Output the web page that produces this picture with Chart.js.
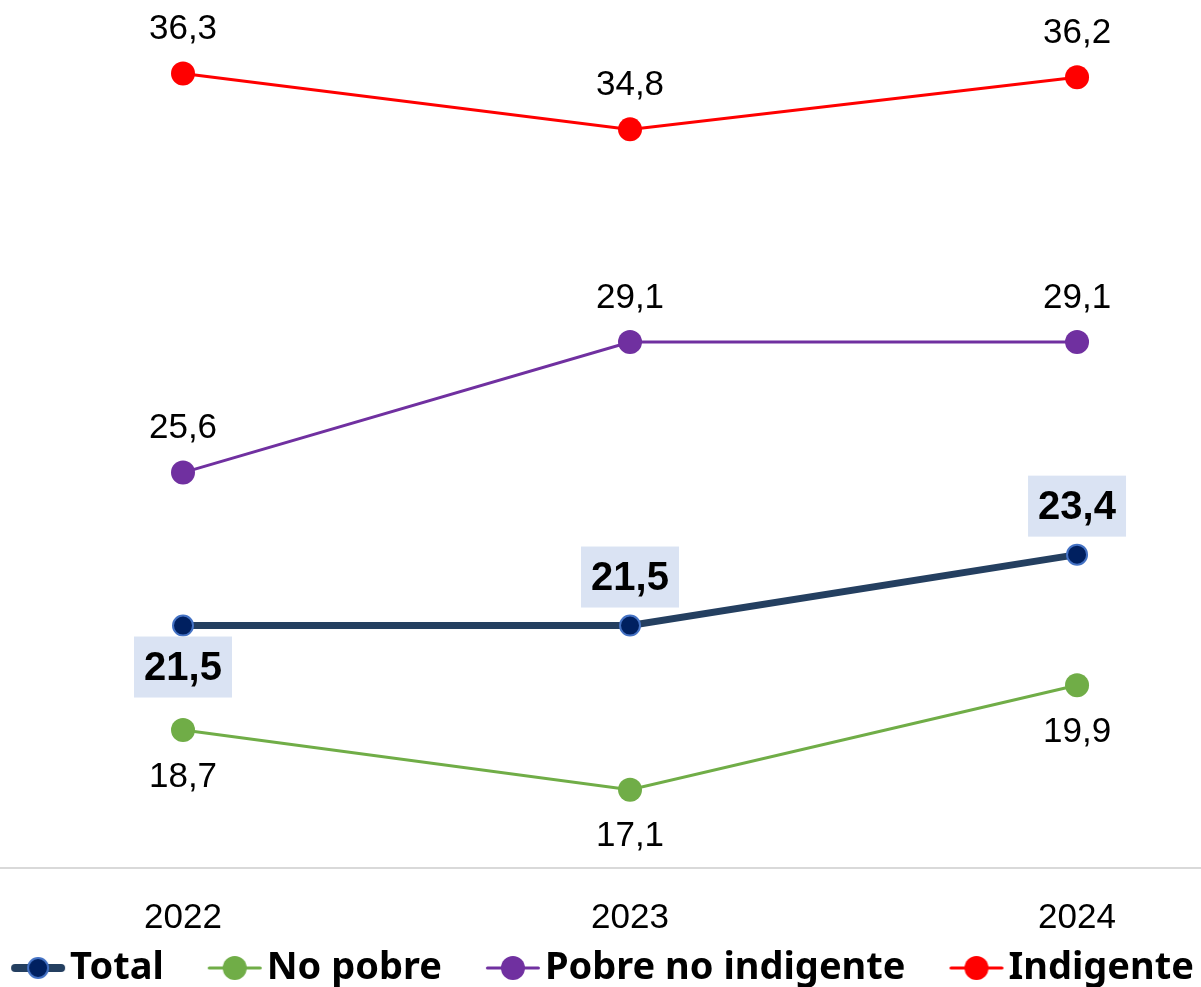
<!DOCTYPE html>
<html>
<head>
<meta charset="utf-8">
<script src="https://cdn.jsdelivr.net/npm/chart.js@4"></script>
<style>
  html, body { margin: 0; padding: 0; background: #fff; overflow: hidden; }
  #wrap { width: 1201px; height: 987px; }
</style>
</head>
<body>
<div id="wrap"><canvas id="chart"></canvas></div>
<script>
// Data
const years = [2022, 2023, 2024];
const total = [21.5, 21.5, 23.4];
const noPobre = [18.7, 17.1, 19.9];
const pobreNoIndigente = [25.6, 29.1, 29.1];
const indigente = [36.3, 34.8, 36.2];

// Label placement per dataset (above / below the point)
const labelPos = [
    ['below', 'above', 'above'],
    ['below', 'below', 'below'],
    ['above', 'above', 'above'],
    ['above', 'above', 'above']
];

const fmt = (v) => v.toFixed(1).replace('.', ',');
const toXY = (arr) => arr.map((v, i) => ({ x: years[i], y: v }));

// Legend icon: short line with a dot. The image is centred on the legend box,
// so the icon is drawn in its right part to sit just before the text.
function makeIcon(lineColor, lineWidth, fill, border, r) {
    const c = document.createElement('canvas');
    c.width = 130;
    c.height = 30;
    const g = c.getContext('2d');
    g.strokeStyle = lineColor;
    g.lineWidth = lineWidth;
    g.lineCap = 'round';
    g.beginPath();
    g.moveTo(58 + lineWidth / 2, 15);
    g.lineTo(112 - lineWidth / 2, 15);
    g.stroke();
    g.beginPath();
    g.arc(85, 15, r, 0, Math.PI * 2);
    g.fillStyle = fill;
    g.fill();
    if (border) {
        g.lineWidth = 2;
        g.strokeStyle = border;
        g.stroke();
    }
    return c;
}

const icons = [
    makeIcon('#243F60', 8, '#002060', '#4472C4', 10),
    makeIcon('#70AD47', 3, '#70AD47', null, 12),
    makeIcon('#7030A0', 3, '#7030A0', null, 12),
    makeIcon('#FF0000', 3, '#FF0000', null, 12)
];

// Value labels drawn next to each point
const valueLabels = {
    id: 'valueLabels',
    afterDatasetsDraw(chart) {
        const ctx = chart.ctx;
        ctx.save();
        ctx.textAlign = 'center';
        ctx.textBaseline = 'middle';
        chart.data.datasets.forEach((ds, di) => {
            const meta = chart.getDatasetMeta(di);
            meta.data.forEach((pt, i) => {
                const txt = fmt(ds.data[i].y);
                const up = labelPos[di][i] === 'above';
                if (di === 0) {
                    // Total: bold label on light blue box
                    const y = pt.y + (up ? -49 : 41);
                    ctx.fillStyle = '#DAE3F3';
                    ctx.fillRect(pt.x - 49, y - 30, 98, 61);
                    ctx.font = 'bold 40px "Liberation Sans", Arial, sans-serif';
                    ctx.fillStyle = '#000';
                    ctx.fillText(txt, pt.x, y + 2);
                } else {
                    const y = pt.y + (up ? -44 : 47);
                    ctx.font = '35px "Liberation Sans", Arial, sans-serif';
                    ctx.fillStyle = '#000';
                    ctx.fillText(txt, pt.x, y);
                }
            });
        });
        ctx.restore();
    }
};

const chart = new Chart(document.getElementById('chart'), {
    type: 'line',
    data: {
        datasets: [
            {
                label: 'Total',
                data: toXY(total),
                borderColor: '#243F60',
                borderWidth: 7,
                pointRadius: 10,
                pointBackgroundColor: '#002060',
                pointBorderColor: '#4472C4',
                pointBorderWidth: 2,
                order: 0
            },
            {
                label: 'No pobre',
                data: toXY(noPobre),
                borderColor: '#70AD47',
                borderWidth: 3,
                pointRadius: 12,
                pointBackgroundColor: '#70AD47',
                pointBorderWidth: 0,
                order: 1
            },
            {
                label: 'Pobre no indigente',
                data: toXY(pobreNoIndigente),
                borderColor: '#7030A0',
                borderWidth: 3,
                pointRadius: 12,
                pointBackgroundColor: '#7030A0',
                pointBorderWidth: 0,
                order: 2
            },
            {
                label: 'Indigente',
                data: toXY(indigente),
                borderColor: '#FF0000',
                borderWidth: 3,
                pointRadius: 12,
                pointBackgroundColor: '#FF0000',
                pointBorderWidth: 0,
                order: 3
            }
        ]
    },
    options: {
        responsive: true,
        maintainAspectRatio: false,
        animation: false,
        layout: {
            autoPadding: false,
            padding: { top: 10, left: -49, right: -27, bottom: -10 }
        },
        scales: {
            x: {
                type: 'linear',
                min: 2021.5906,
                max: 2024.2773,
                afterBuildTicks: (axis) => {
                    axis.ticks = years.map(v => ({ value: v }));
                },
                afterFit: (axis) => { axis.height = 63; },
                grid: { display: false, drawTicks: false },
                border: { display: true, color: '#D9D9D9', width: 2 },
                ticks: {
                    color: '#000',
                    padding: 29,
                    maxRotation: 0,
                    font: { family: '"Liberation Sans", Arial, sans-serif', size: 35 },
                    callback: (v) => String(v)
                }
            },
            y: {
                display: false,
                min: 15,
                max: 38
            }
        },
        plugins: {
            tooltip: { enabled: false },
            legend: {
                position: 'bottom',
                labels: {
                    usePointStyle: true,
                    pointStyleWidth: 66,
                    padding: 18,
                    color: '#000',
                    font: { family: '"Noto Sans", sans-serif', size: 38, weight: 'bold' },
                    generateLabels: (chart) => chart.data.datasets.map((ds, i) => ({
                        text: ds.label,
                        pointStyle: icons[i],
                        datasetIndex: i,
                        fontColor: '#000',
                        lineWidth: 0,
                        strokeStyle: 'transparent',
                        fillStyle: 'transparent',
                        hidden: false
                    }))
                }
            }
        }
    },
    plugins: [valueLabels]
});
</script>
</body>
</html>
